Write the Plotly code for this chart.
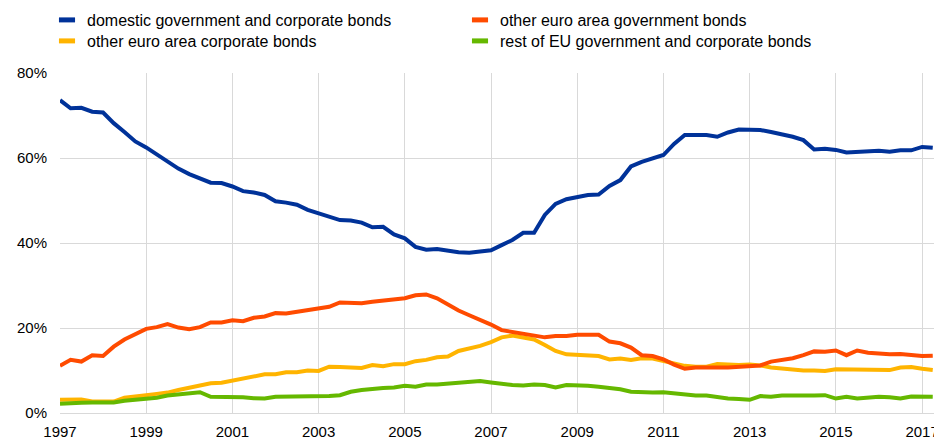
import pandas as pd
import plotly.graph_objects as go

# quarterly observations, 1997Q1 - 2017Q2
quarters = pd.period_range("1997Q1", "2017Q2", freq="Q").to_timestamp()

domestic = [
    73.6, 71.7, 71.8, 70.9, 70.7, 68.2, 66.1, 63.9, 62.5, 60.9, 59.1, 57.5,
    56.2, 55.1, 54.2, 54.1, 53.3, 52.2, 51.9, 51.3, 49.8, 49.5, 49.0, 47.8,
    47.0, 46.4, 45.4, 45.3, 44.8, 43.7, 43.8, 42.0, 41.1, 39.1, 38.4, 38.6,
    38.2, 37.8, 37.7, 37.9, 38.3, 39.5, 40.7, 42.4, 42.4, 46.6, 49.2, 50.3,
    50.9, 51.3, 51.4, 53.4, 54.8, 58.0, 59.1, 59.9, 60.7, 63.3, 65.4, 65.4,
    65.4, 65.0, 66.0, 66.7, 66.7, 66.6, 66.1, 65.6, 65.0, 64.2, 62.0, 62.2,
    61.9, 61.3, 61.4, 61.7, 61.7, 61.5, 61.8, 61.8, 62.6, 62.4,
]
ea_government = [
    11.1, 12.5, 12.1, 13.6, 13.4, 15.6, 17.3, 18.6, 19.8, 20.2, 20.9, 20.1,
    19.7, 20.2, 21.3, 21.3, 21.8, 21.6, 22.4, 22.7, 23.5, 23.4, 23.8, 24.1,
    24.6, 25.0, 26.0, 26.0, 25.8, 26.2, 26.5, 26.9, 27.0, 27.7, 27.9, 27.0,
    25.6, 24.1, 23.0, 22.0, 20.8, 19.5, 19.1, 18.8, 18.4, 17.8, 18.1, 18.1,
    18.4, 18.3, 18.4, 16.8, 16.4, 15.4, 13.6, 13.4, 12.6, 11.4, 10.4, 10.7,
    10.8, 10.7, 10.7, 10.9, 11.1, 11.2, 12.1, 12.5, 12.9, 13.6, 14.5, 14.4,
    14.7, 13.6, 14.7, 14.2, 14.0, 13.8, 13.9, 13.7, 13.4, 13.5,
]
ea_corporate = [
    3.1, 3.2, 3.2, 2.7, 2.8, 2.7, 3.6, 3.8, 4.2, 4.5, 4.8, 5.4,
    6.0, 6.6, 7.0, 7.1, 7.6, 8.2, 8.5, 9.1, 9.1, 9.6, 9.6, 10.0,
    9.9, 10.9, 10.8, 10.8, 10.6, 11.3, 11.0, 11.5, 11.5, 12.2, 12.5, 13.1,
    13.3, 14.6, 15.1, 15.8, 16.7, 17.8, 18.2, 17.8, 17.3, 16.0, 14.6, 13.8,
    13.6, 13.5, 13.4, 12.6, 12.8, 12.5, 12.9, 12.8, 12.2, 11.5, 11.1, 10.9,
    10.9, 11.5, 11.3, 11.3, 11.4, 11.2, 10.7, 10.4, 10.2, 10.0, 10.0, 9.9,
    10.3, 10.3, 10.3, 10.3, 10.3, 10.1, 10.7, 10.8, 10.4, 10.1,
]
rest_eu = [
    2.2, 2.4, 2.4, 2.5, 2.4, 2.5, 2.9, 3.1, 3.2, 3.6, 4.1, 4.3,
    4.7, 4.9, 3.8, 3.8, 3.8, 3.7, 3.5, 3.4, 3.8, 3.8, 3.8, 4.0,
    4.0, 4.0, 4.2, 5.0, 5.4, 5.7, 5.9, 6.0, 6.4, 6.2, 6.7, 6.7,
    6.9, 7.2, 7.4, 7.5, 7.2, 6.8, 6.6, 6.5, 6.7, 6.6, 6.0, 6.6,
    6.6, 6.4, 6.2, 5.9, 5.6, 5.0, 4.8, 4.8, 4.9, 4.6, 4.3, 4.1,
    4.1, 3.7, 3.4, 3.3, 3.1, 4.0, 3.8, 4.1, 4.2, 4.1, 4.1, 4.2,
    3.4, 3.8, 3.4, 3.6, 3.8, 3.7, 3.4, 3.9, 3.9, 3.8,
]

BLUE = "#003299"
ORANGE = "#FF4B00"
YELLOW = "#FFB400"
GREEN = "#65B800"

# the page body adds an 8px margin around the figure
W, H = 934, 433

fig = go.Figure()

# plotted lines (drawing order: orange above yellow)
for values, color in [(domestic, BLUE), (ea_corporate, YELLOW),
                      (ea_government, ORANGE), (rest_eu, GREEN)]:
    fig.add_trace(go.Scatter(
        x=quarters, y=values, mode="lines",
        line=dict(color=color, width=4), showlegend=False, hoverinfo="skip",
    ))

# legend entries (short thick bars); one legend per row
legend_items = [
    ("domestic government and corporate bonds", BLUE, "legend"),
    ("other euro area government bonds", ORANGE, "legend"),
    ("other euro area corporate bonds", YELLOW, "legend2"),
    ("rest of EU government and corporate bonds", GREEN, "legend2"),
]
for name, color, leg in legend_items:
    fig.add_trace(go.Scatter(
        x=[None], y=[None], mode="markers", name=name, legend=leg,
        marker=dict(symbol="line-ew", size=11.5, color=color,
                    line=dict(color=color, width=5)),
    ))

legend_style = dict(
    orientation="h", xref="container", yref="container",
    x=39 / W, xanchor="left", yanchor="middle",
    entrywidth=368, entrywidthmode="pixels",
    font=dict(size=16), bgcolor="rgba(0,0,0,0)", traceorder="normal",
)

fig.update_layout(
    width=W, height=H,
    margin=dict(l=52, r=1, t=65, b=28, autoexpand=False),
    paper_bgcolor="white", plot_bgcolor="white",
    font=dict(family="Liberation Sans, Arial, sans-serif", size=15, color="black"),
    legend=dict(legend_style, y=1 - 12 / H),
    legend2=dict(legend_style, y=1 - 33 / H),
)
fig.update_xaxes(
    type="date", range=["1997-01-01", "2017-06-10"],
    dtick="M24", tick0="1997-01-01", tickformat="%Y",
    showgrid=True, gridcolor="#d9d9d9", gridwidth=1,
    showline=True, linecolor="#d9d9d9", linewidth=1,
    ticks="", ticklabelstandoff=5, zeroline=False, automargin=False,
)
fig.update_yaxes(
    range=[0, 80], dtick=20, ticksuffix="%",
    showgrid=True, gridcolor="#d9d9d9", gridwidth=1,
    showline=False, zeroline=False, ticks="", ticklabelstandoff=12,
    automargin=False,
)

fig.write_html("out.html")
